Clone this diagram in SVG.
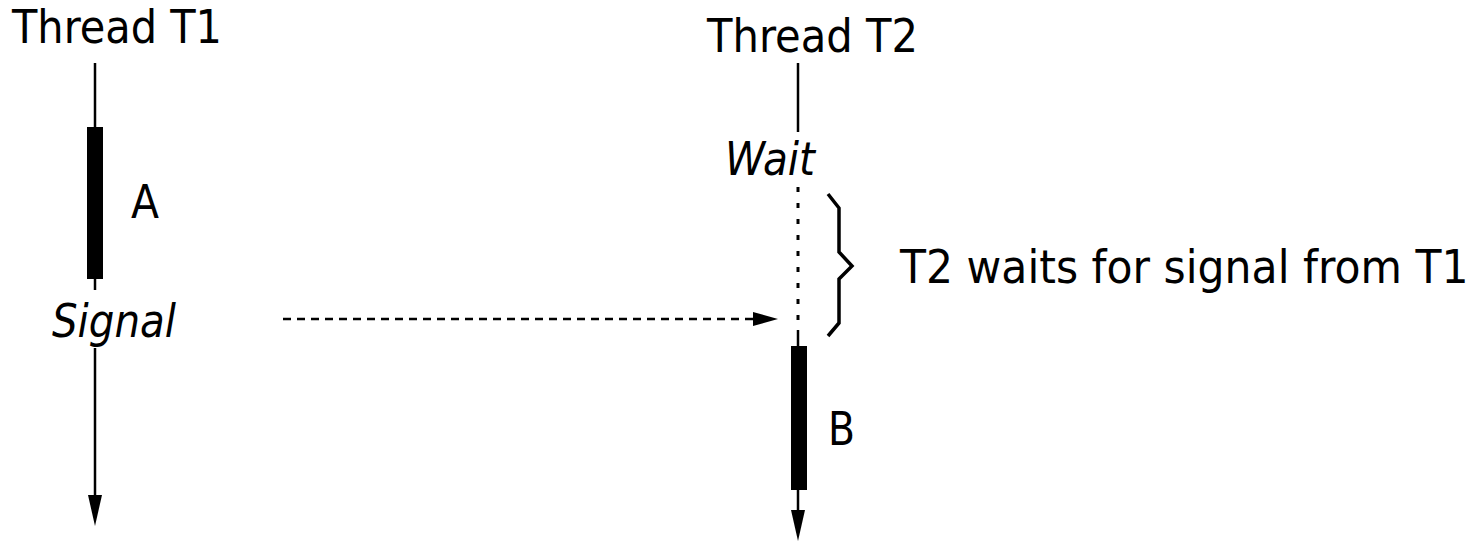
<svg xmlns="http://www.w3.org/2000/svg" width="1484" height="542" viewBox="0 0 1484 542">
<style>
text{font-family:"DejaVu Sans","Liberation Sans",sans-serif;font-size:46px;fill:#000}
.it{font-style:italic}
.ln{stroke:#000;stroke-width:2.5;fill:none}
.dot{stroke:#000;stroke-width:3;fill:none;stroke-dasharray:5 11}
.dash{stroke:#000;stroke-width:2.5;fill:none;stroke-dasharray:8 6}
.bar{fill:#000}
.head{fill:#000}
.brace{stroke:#000;stroke-width:3.5;fill:none;stroke-linejoin:miter}
</style>
<rect width="1484" height="542" fill="#fff"/>
<g id="thread-t1">
<text x="12" y="43" textLength="210" lengthAdjust="spacingAndGlyphs">Thread T1</text>
<line class="ln" x1="95" y1="63" x2="95" y2="127"/>
<rect class="bar" x="87" y="127" width="16" height="152"/>
<line class="ln" x1="95" y1="279" x2="95" y2="290"/>
<text x="131" y="218" textLength="28" lengthAdjust="spacingAndGlyphs">A</text>
<text class="it" x="52" y="337" textLength="124" lengthAdjust="spacingAndGlyphs">Signal</text>
<line class="ln" x1="95" y1="348" x2="95" y2="497"/>
<polygon class="head" points="88,495 102,495 95,526"/>
</g>
<g id="thread-t2">
<text x="707" y="52" textLength="211" lengthAdjust="spacingAndGlyphs">Thread T2</text>
<line class="ln" x1="798" y1="63" x2="798" y2="132"/>
<text class="it" x="725" y="175" textLength="90" lengthAdjust="spacingAndGlyphs">Wait</text>
<line class="dot" x1="798" y1="187" x2="798" y2="320"/>
<line class="ln" x1="798" y1="330" x2="798" y2="346"/>
<rect class="bar" x="791" y="346" width="16" height="144"/>
<text x="828" y="445" textLength="27" lengthAdjust="spacingAndGlyphs">B</text>
<line class="ln" x1="798" y1="490" x2="798" y2="512"/>
<polygon class="head" points="791,510 805,510 798,541"/>
</g>
<g id="wait-note">
<polyline class="brace" points="828,194 839,208 839,252 852,266 839,279 839,323 828,336"/>
<text transform="translate(900,283) scale(0.925,1)" x="0" y="0">T2 waits for signal from T1</text>
</g>
<g id="connectors">
<line class="dash" x1="283" y1="319" x2="755" y2="319"/>
<polygon class="head" points="753,312 778,319 753,326"/>
</g>
</svg>
